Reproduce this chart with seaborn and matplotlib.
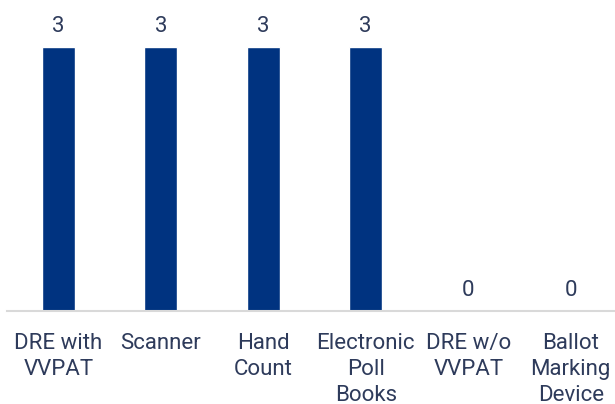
import matplotlib
matplotlib.use("Agg")
import matplotlib.pyplot as plt
import seaborn as sns
import pandas as pd

# data
categories = ["DRE with\nVVPAT", "Scanner", "Hand\nCount", "Electronic\nPoll\nBooks",
              "DRE w/o\nVVPAT", "Ballot\nMarking\nDevice"]
counts = [3, 3, 3, 3, 0, 0]

df = pd.DataFrame({"equipment": categories, "count": counts})

sns.set_style("white")
plt.rcParams["font.family"] = ["Roboto", "DejaVu Sans"]

bar_color = "#003380"
text_color = "#2E3B5B"

fig = plt.figure(figsize=(6.15, 4.04), dpi=100)
ax = fig.add_axes([7 / 615, 93 / 404, 1.0, 311 / 404])

sns.barplot(data=df, x="equipment", y="count", color=bar_color, width=0.32,
            saturation=1, ax=ax)

ax.set_ylim(0, 3 * 311 / 264)
ax.set_xlim(-0.5, 5.5)

for i, v in enumerate(counts):
    ax.annotate(str(v), (i, v), xytext=(0, 7), textcoords="offset points",
                ha="center", va="bottom", fontsize=16, color=text_color)

ax.set_xlabel("")
ax.set_ylabel("")
ax.set_yticks([])
ax.tick_params(axis="x", length=0, pad=16, labelsize=16, labelcolor=text_color)
for lbl in ax.get_xticklabels():
    lbl.set_linespacing(1.3)

for side in ["top", "right", "left"]:
    ax.spines[side].set_visible(False)
ax.spines["bottom"].set_color("#D9D9D9")
ax.spines["bottom"].set_linewidth(1.5)

fig.savefig("out.png", dpi=100)
